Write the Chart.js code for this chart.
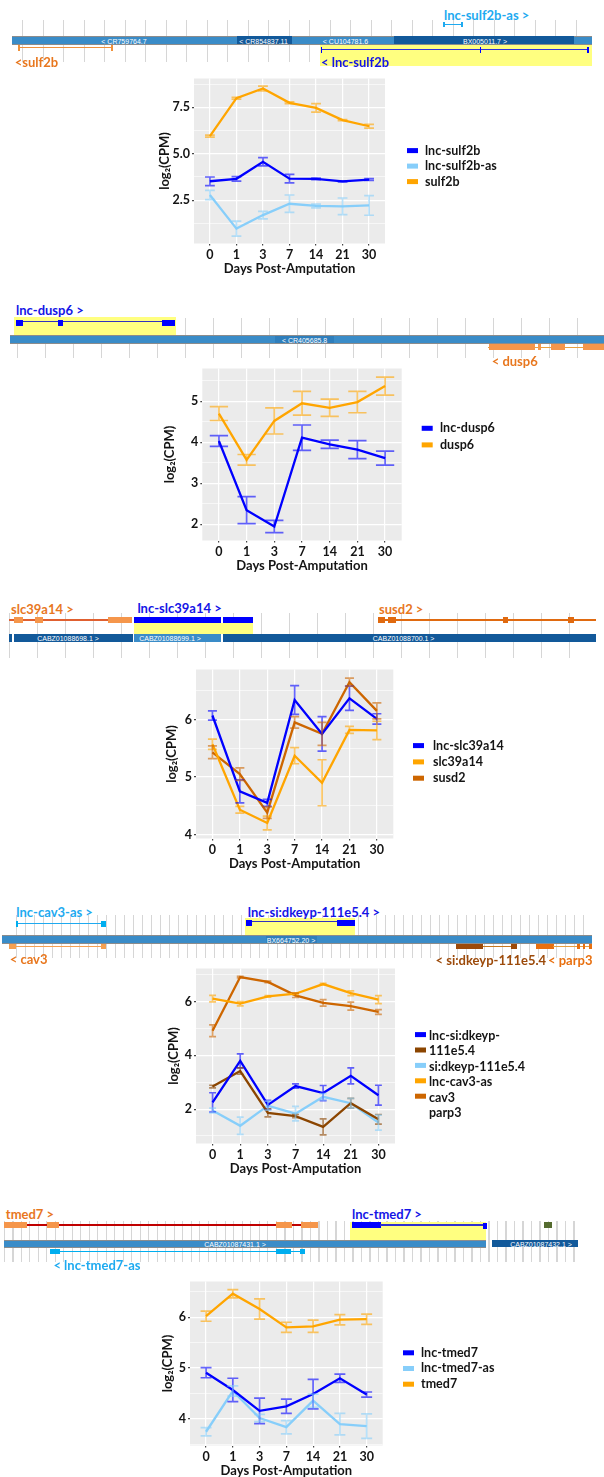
<!DOCTYPE html>
<html>
<head>
<meta charset="utf-8">
<script src="https://cdn.jsdelivr.net/npm/chart.js@4.4.1/dist/chart.umd.min.js"></script>
<style>
  body { margin: 0; background: #fff; }
  #page { position: relative; width: 604px; height: 1477px; overflow: hidden; font-family: Lato, 'Open Sans', sans-serif; }
  .box { position: absolute; }
  .lbl { position: absolute; font-weight: 700; font-size: 13px; line-height: 1; white-space: nowrap; transform: translateY(-50%); }
  .ctg { position: absolute; color: #fff; font: 7px 'Liberation Sans', Arial, sans-serif; line-height: 1; white-space: nowrap; transform: translate(-50%, -50%); }
  canvas { position: absolute; left: 0; }
</style>
</head>
<body>
<div id="page">
  <canvas id="c1"></canvas>
  <canvas id="c2"></canvas>
  <canvas id="c3"></canvas>
  <canvas id="c4"></canvas>
  <canvas id="c5"></canvas>
</div>
<script>
// ---- data (log2 CPM, mean and error half-width) ----
const days = ['0', '1', '3', '7', '14', '21', '30'];

// sulf2b
const lncSulf2b = [3.52, 3.65, 4.57, 3.66, 3.65, 3.51, 3.61];
const lncSulf2bErr = [0.23, 0.12, 0.22, 0.23, 0.04, 0.02, 0.05];
const lncSulf2bAs = [2.78, 0.97, 1.70, 2.31, 2.19, 2.17, 2.22];
const lncSulf2bAsErr = [0.25, 0.40, 0.20, 0.47, 0.10, 0.45, 0.53];
const sulf2b = [5.95, 7.99, 8.51, 7.74, 7.47, 6.81, 6.48];
const sulf2bErr = [0.05, 0.05, 0.13, 0.05, 0.23, 0.03, 0.10];
const p1Major = [2.5, 5.0, 7.5];
const p1Labels = ['2.5', '5.0', '7.5'];
const p1Minor = [1.25, 3.75, 6.25, 8.75];

// dusp6
const lncDusp6 = [4.03, 2.34, 1.94, 4.11, 3.95, 3.82, 3.61];
const lncDusp6Err = [0.13, 0.33, 0.15, 0.31, 0.10, 0.22, 0.17];
const dusp6 = [4.70, 3.57, 4.52, 4.95, 4.84, 4.98, 5.37];
const dusp6Err = [0.17, 0.13, 0.32, 0.29, 0.21, 0.26, 0.22];
const p2Major = [2, 3, 4, 5];
const p2Labels = ['2', '3', '4', '5'];
const p2Minor = [2.5, 3.5, 4.5, 5.5];

// slc39a14
const lncSlc39a14 = [6.07, 4.75, 4.55, 6.34, 5.75, 6.37, 6.01];
const lncSlc39a14Err = [0.08, 0.20, 0.06, 0.25, 0.30, 0.21, 0.09];
const slc39a14 = [5.57, 4.43, 4.20, 5.37, 4.90, 5.82, 5.81];
const slc39a14Err = [0.09, 0.06, 0.12, 0.14, 0.40, 0.06, 0.16];
const susd2 = [5.43, 5.05, 4.38, 5.95, 5.75, 6.65, 6.15];
const susd2Err = [0.11, 0.11, 0.10, 0.10, 0.20, 0.07, 0.14];
const p3Major = [4, 5, 6];
const p3Labels = ['4', '5', '6'];
const p3Minor = [4.5, 5.5, 6.5];

// si:dkeyp-111e5.4 / cav3 / parp3
const lncDkeyp = [2.25, 3.80, 2.16, 2.86, 2.60, 3.24, 2.52];
const lncDkeypErr = [0.36, 0.26, 0.17, 0.08, 0.28, 0.30, 0.37];
const dkeyp = [2.84, 3.42, 1.86, 1.74, 1.34, 2.22, 1.62];
const dkeypErr = [0.05, 0.12, 0.15, 0.06, 0.30, 0.18, 0.18];
const lncCav3As = [1.95, 1.38, 2.13, 1.83, 2.46, 2.22, 1.50];
const lncCav3AsErr = [0.09, 0.32, 0.17, 0.27, 0.12, 0.18, 0.28];
const cav3 = [6.12, 5.93, 6.20, 6.30, 6.66, 6.32, 6.08];
const cav3Err = [0.12, 0.08, 0.03, 0.03, 0.03, 0.09, 0.15];
const parp3 = [4.92, 6.92, 6.74, 6.24, 5.96, 5.84, 5.62];
const parp3Err = [0.22, 0.03, 0.03, 0.08, 0.12, 0.15, 0.09];
const p4Major = [2, 4, 6];
const p4Labels = ['2', '4', '6'];
const p4Minor = [1, 3, 5, 7];
const p4LegendLines = ['lnc-si:dkeyp-', '111e5.4', 'si:dkeyp-111e5.4', 'lnc-cav3-as', 'cav3', 'parp3'];

// tmed7
const lncTmed7 = [4.91, 4.57, 4.16, 4.25, 4.49, 4.80, 4.48];
const lncTmed7Err = [0.10, 0.23, 0.25, 0.14, 0.29, 0.08, 0.05];
const lncTmed7As = [3.75, 4.55, 4.02, 3.84, 4.36, 3.90, 3.86];
const lncTmed7AsErr = [0.08, 0.10, 0.07, 0.13, 0.13, 0.21, 0.24];
const tmed7 = [6.02, 6.46, 6.16, 5.80, 5.82, 5.95, 5.96];
const tmed7Err = [0.10, 0.08, 0.20, 0.10, 0.12, 0.10, 0.10];
const p5Major = [4, 5, 6];
const p5Labels = ['4', '5', '6'];
const p5Minor = [3.5, 4.5, 5.5, 6.5];

const BLUE = '#0000FF', SKY = '#87CEFA', ORANGE = '#FFA500', DARKOR = '#CD6600', BROWN = '#8B4500';
const TICK_FONT = { family: 'Lato', size: 12.5, weight: '700' };
const TITLE_FONT = { family: 'Lato', size: 13, weight: '700' };
const TXT = '#141414';

// ---- plugins ----
const panelBg = {
  id: 'panelBg',
  beforeDraw(chart) {
    const { ctx, chartArea: a } = chart;
    ctx.save();
    ctx.fillStyle = '#EBEBEB';
    ctx.fillRect(a.left, a.top, a.right - a.left, a.bottom - a.top);
    ctx.restore();
  }
};

const errorBars = {
  id: 'errorBars',
  afterDatasetsDraw(chart, args, opts) {
    const { ctx, scales: { x, y } } = chart;
    chart.data.datasets.forEach(ds => {
      if (!ds.errors) return;
      ctx.save();
      ctx.strokeStyle = ds.borderColor;
      ctx.globalAlpha = 0.6;
      ctx.lineWidth = 1.7;
      ds.data.forEach((pt, i) => {
        const e = ds.errors[i];
        const cx = x.getPixelForValue(pt.x);
        const hw = x.getPixelForValue(pt.x + opts.width / 2) - cx;
        const y1 = y.getPixelForValue(pt.y - e);
        const y2 = y.getPixelForValue(pt.y + e);
        ctx.beginPath();
        ctx.moveTo(cx, y1); ctx.lineTo(cx, y2);
        ctx.moveTo(cx - hw, y1); ctx.lineTo(cx + hw, y1);
        ctx.moveTo(cx - hw, y2); ctx.lineTo(cx + hw, y2);
        ctx.stroke();
      });
      ctx.restore();
    });
  }
};

const sideLegend = {
  id: 'sideLegend',
  afterDraw(chart, args, o) {
    const { ctx } = chart;
    ctx.save();
    chart.data.datasets.forEach((ds, i) => {
      ctx.fillStyle = ds.borderColor;
      ctx.fillRect(o.keyX, o.y0 - o.top + i * o.dy - 2.4 + (o.keyShift || 0), 11, 5);
    });
    const lines = o.lines || chart.data.datasets.map(ds => ds.label);
    ctx.fillStyle = TXT;
    ctx.font = '700 12.5px Lato';
    ctx.textBaseline = 'middle';
    lines.forEach((t, i) => ctx.fillText(t, o.textX, o.y0 - o.top + i * o.dy));
    ctx.restore();
  }
};

function buildChart(id, p) {
  const cv = document.getElementById(id);
  const top = p.plot.top - 4;
  const h = Math.round(p.plot.bottom - top + 37.5);
  const yw = p.plot.left - p.yTitleX + 10.8;
  cv.width = 604;
  cv.height = h;
  cv.style.top = top + 'px';
  const isMajor = v => p.major.some(m => Math.abs(m - v) < 1e-6);

  new Chart(cv, {
    type: 'line',
    data: {
      datasets: p.series.map(s => ({
        label: s.name,
        data: s.values.map((v, i) => ({ x: i, y: v })),
        errors: s.errors,
        borderColor: s.color,
        backgroundColor: s.color,
        borderWidth: 2.3,
        pointRadius: 0,
        tension: 0,
        fill: false,
      })),
    },
    options: {
      responsive: false,
      animation: false,
      devicePixelRatio: 1,
      layout: { padding: { left: p.plot.left - yw, right: 604 - p.plot.right, top: 4, bottom: 0 } },
      plugins: {
        legend: { display: false },
        tooltip: { enabled: false },
        errorBars: { width: p.capWidth },
        sideLegend: Object.assign({ top }, p.legend),
      },
      scales: {
        x: {
          type: 'linear',
          min: -0.6,
          max: 6.6,
          afterBuildTicks: s => { s.ticks = days.map((d, i) => ({ value: i })); },
          afterFit: s => { s.height = 37.5; },
          ticks: { callback: v => days[v], font: TICK_FONT, color: TXT, padding: 2, maxRotation: 0, autoSkip: false },
          grid: { color: '#fff', lineWidth: 1.2, tickLength: 2, tickColor: '#444' },
          border: { display: false },
          title: { display: true, text: 'Days Post-Amputation', font: TITLE_FONT, color: TXT, padding: { top: 0, bottom: 4 } },
        },
        y: {
          min: p.yMin,
          max: p.yMax,
          afterBuildTicks: s => {
            s.ticks = [...p.minor, ...p.major].sort((a, b) => a - b).map(v => ({ value: v }));
          },
          afterFit: s => { s.width = yw; },
          ticks: {
            callback: v => { const k = p.major.findIndex(m => Math.abs(m - v) < 1e-6); return k < 0 ? '' : p.labels[k]; },
            font: TICK_FONT, color: TXT, padding: 2, autoSkip: false,
          },
          grid: {
            color: '#fff',
            lineWidth: c => (isMajor(c.tick.value) ? 1.2 : 0.6),
            tickLength: 2,
            tickColor: c => (c.tick && isMajor(c.tick.value) ? '#444' : 'rgba(0,0,0,0)'),
          },
          border: { display: false },
          title: { display: true, text: 'log₂(CPM)', font: TITLE_FONT, color: TXT, padding: { top: 3, bottom: 0 } },
        },
      },
    },
    plugins: [panelBg, errorBars, sideLegend],
  });
}

buildChart('c1', {
  plot: { left: 194, right: 385, top: 72.5, bottom: 242.5 }, yTitleX: 165,
  yMin: 0.17, yMax: 9.05, major: p1Major, labels: p1Labels, minor: p1Minor, capWidth: 0.37,
  series: [
    { name: 'lnc-sulf2b', values: lncSulf2b, errors: lncSulf2bErr, color: BLUE },
    { name: 'lnc-sulf2b-as', values: lncSulf2bAs, errors: lncSulf2bAsErr, color: SKY },
    { name: 'sulf2b', values: sulf2b, errors: sulf2bErr, color: ORANGE },
  ],
  legend: { keyX: 407, textX: 425, y0: 150, dy: 15.5 },
});

buildChart('c2', {
  plot: { left: 202.3, right: 401.7, top: 362.5, bottom: 540 }, yTitleX: 170,
  yMin: 1.6, yMax: 5.8, major: p2Major, labels: p2Labels, minor: p2Minor, capWidth: 0.66,
  series: [
    { name: 'lnc-dusp6', values: lncDusp6, errors: lncDusp6Err, color: BLUE },
    { name: 'dusp6', values: dusp6, errors: dusp6Err, color: ORANGE },
  ],
  legend: { keyX: 421.7, textX: 440, y0: 427.7, dy: 16.6 },
});

buildChart('c3', {
  plot: { left: 196, right: 393.3, top: 663.5, bottom: 838.3 }, yTitleX: 172,
  yMin: 3.93, yMax: 6.87, major: p3Major, labels: p3Labels, minor: p3Minor, capWidth: 0.33,
  series: [
    { name: 'lnc-slc39a14', values: lncSlc39a14, errors: lncSlc39a14Err, color: BLUE },
    { name: 'slc39a14', values: slc39a14, errors: slc39a14Err, color: ORANGE },
    { name: 'susd2', values: susd2, errors: susd2Err, color: DARKOR },
  ],
  legend: { keyX: 413, textX: 433, y0: 745, dy: 16.3 },
});

buildChart('c4', {
  plot: { left: 196, right: 395, top: 963, bottom: 1143.3 }, yTitleX: 174,
  yMin: 0.72, yMax: 7.24, major: p4Major, labels: p4Labels, minor: p4Minor, capWidth: 0.25,
  series: [
    { name: 'lnc-si:dkeyp-111e5.4', values: lncDkeyp, errors: lncDkeypErr, color: BLUE },
    { name: 'si:dkeyp-111e5.4', values: dkeyp, errors: dkeypErr, color: BROWN },
    { name: 'lnc-cav3-as', values: lncCav3As, errors: lncCav3AsErr, color: SKY },
    { name: 'cav3', values: cav3, errors: cav3Err, color: ORANGE },
    { name: 'parp3', values: parp3, errors: parp3Err, color: DARKOR },
  ],
  legend: { keyX: 415, textX: 429, y0: 1036, dy: 15.4, keyShift: -1.5, lines: p4LegendLines },
});

buildChart('c5', {
  plot: { left: 190, right: 382.7, top: 1276, bottom: 1445.7 }, yTitleX: 168,
  yMin: 3.48, yMax: 6.7, major: p5Major, labels: p5Labels, minor: p5Minor, capWidth: 0.41,
  series: [
    { name: 'lnc-tmed7', values: lncTmed7, errors: lncTmed7Err, color: BLUE },
    { name: 'lnc-tmed7-as', values: lncTmed7As, errors: lncTmed7AsErr, color: SKY },
    { name: 'tmed7', values: tmed7, errors: tmed7Err, color: ORANGE },
  ],
  legend: { keyX: 403, textX: 421, y0: 1352.7, dy: 15.7 },
});

// ---- genome browser strips above each chart ----
const page = document.getElementById('page');
function add(cls, css, text) {
  const d = document.createElement('div');
  d.className = cls;
  Object.assign(d.style, css);
  if (text) d.textContent = text;
  page.appendChild(d);
  return d;
}
const px = v => v + 'px';
function box(x, y, w, h, c) { add('box', { left: px(x), top: px(y), width: px(w), height: px(h), background: c }); }
function hline(x1, x2, y, c, t) { box(x1, y - (t || 1) / 2, x2 - x1, t || 1, c); }
function label(x, y, s, c) { add('lbl', { left: px(x), top: px(y), color: c }, s); }
function ctg(cx, cy, s) { add('ctg', { left: px(cx), top: px(cy) }, s); }
function vlines(x0, x1, y0, y1, step) {
  add('box', {
    left: px(x0), top: px(y0), width: px(x1 - x0), height: px(y1 - y0),
    background: `repeating-linear-gradient(90deg, #d6d6d6 0 1px, transparent 1px ${step}px)`,
  });
}
function contig(x, y, w, h, c) {
  box(x, y, w, h, c);
  hline(x, x + w, y, '#8c8c8c', 1);
  hline(x, x + w, y + h, '#8c8c8c', 1);
}
const C_MID = '#3A8CC8', C_DARK = '#12599A', C_YEL = '#FFFF80';
const T_BLUE = '#1414E6', T_SKY = '#1EAAF0', T_OR = '#E8771E', EX_OR = '#F5964B';

// strip 1
vlines(22, 582, 20, 62, 20.5);
box(320, 45, 272, 20.7, C_YEL);
contig(11.6, 36, 580.4, 8.3, C_MID);
box(237, 36, 55, 8.3, C_DARK);
box(394, 36, 180, 8.3, C_DARK);
ctg(124, 40.5, '< CR759764.7');
ctg(263.5, 40.5, '< CR854837.11');
ctg(345.5, 40.5, '< CU104781.6');
ctg(485, 40.5, 'BX005011.7 >');
hline(18.6, 112, 47.7, '#F0913A', 1.3);
box(18, 45, 1.6, 5.5, '#F0913A'); box(111, 45, 1.6, 5.5, '#F0913A');
label(14.7, 61.7, '<sulf2b', T_OR);
hline(321, 588, 49.3, '#3030D8', 1.2);
box(320.5, 46.5, 1.8, 6, BLUE); box(479.5, 46.5, 1.8, 6, BLUE); box(587, 46.5, 1.8, 6, BLUE);
label(321, 61.7, '< lnc-sulf2b', T_BLUE);
label(444, 15, 'lnc-sulf2b-as >', T_SKY);
hline(443, 462, 24.5, T_SKY, 1.2);
box(443, 22, 1.5, 5, T_SKY); box(461, 22, 1.5, 5, T_SKY);

// strip 2
vlines(17.4, 604, 318, 358, 28);
box(13.5, 317.3, 162, 17.7, C_YEL);
hline(15.5, 175, 321.7, '#3030C0', 1.2);
box(15.5, 319.5, 7.5, 6, BLUE); box(58, 319.5, 5, 6, BLUE); box(162, 319.5, 13, 6, BLUE);
label(16, 310, 'lnc-dusp6 >', T_BLUE);
contig(9.7, 335, 594.3, 8.3, C_MID);
box(275, 335.5, 59, 7.5, '#2E7EBC');
ctg(304.6, 339.5, '< CR405685.8');
hline(488, 604, 347.3, '#E8A040', 1.3);
box(488.6, 344.3, 46.8, 5.7, EX_OR); box(538, 344.3, 3, 5.7, EX_OR);
box(550.5, 344.3, 14, 5.7, EX_OR); box(582.7, 344.3, 21.3, 5.7, EX_OR);
label(491.7, 361, '< dusp6', T_OR);

// strip 3
vlines(8.5, 596, 613, 657.7, 28);
hline(8.5, 131.6, 620, '#E06030', 1.2);
box(13.5, 617.3, 9, 5.4, EX_OR); box(35, 617.3, 7.6, 5.4, EX_OR); box(107.6, 617.3, 24, 5.4, EX_OR);
box(133.6, 622.7, 119.2, 11.6, C_YEL);
box(134.3, 617, 86.4, 5.7, BLUE); box(223.4, 617, 29.4, 5.7, BLUE);
hline(377.5, 596, 620, '#E06A10', 1.2);
box(377.5, 617.3, 7.5, 5.4, '#E06A10'); box(388, 617.3, 7.7, 5.4, '#E06A10');
box(502.5, 617.3, 5.8, 5.4, '#E06A10'); box(568, 617.3, 5.7, 5.4, '#E06A10');
label(11, 609, 'slc39a14 >', T_OR);
label(137.4, 608.3, 'lnc-slc39a14 >', T_BLUE);
label(379, 609, 'susd2 >', T_OR);
box(8.5, 634.3, 587.5, 7.4, C_DARK);
box(133.6, 634.3, 87.1, 7.4, C_MID);
box(12.4, 634.3, 1.5, 7.4, '#fff'); box(132.6, 634.3, 1.5, 7.4, '#fff'); box(221, 634.3, 1.5, 7.4, '#fff');
ctg(68, 638.2, 'CABZ01088698.1 >');
ctg(170, 638.2, 'CABZ01088699.1 >');
ctg(403.6, 638.2, 'CABZ01088700.1 >');

// strip 4
vlines(16, 592, 915, 957.7, 9);
box(245, 918.3, 110, 17.4, C_YEL);
hline(16, 103, 923.3, T_SKY, 1.2);
box(15.5, 920.5, 2.7, 6, '#00AEEF'); box(100.6, 920.5, 5.4, 6, '#00AEEF');
label(16.3, 912.3, 'lnc-cav3-as >', T_SKY);
hline(246, 354.6, 921.7, '#3030C0', 1.2);
box(246, 920, 5.6, 5.7, BLUE); box(336.8, 920, 17.8, 5.7, BLUE);
label(247.8, 911.7, 'lnc-si:dkeyp-111e5.4 >', T_BLUE);
contig(2, 935.7, 590, 7.6, C_MID);
box(266, 936.2, 51, 7, '#2E7EBC');
ctg(291, 939.8, 'BX664752.20 >');
hline(8.5, 105.7, 946.8, '#F5A050', 1.3);
box(8.5, 944.3, 7.8, 5, '#F5A050'); box(100.6, 944.3, 5.1, 5, '#F5A050');
label(9.7, 959, '< cav3', T_OR);
box(456, 944.3, 27, 5, '#9C4A0A');
hline(483, 517, 946.8, '#C8781E', 1.3);
box(511, 944.3, 6, 5, '#9C4A0A');
label(435.5, 960, '< si:dkeyp-111e5.4', '#9C4A0A');
box(536, 944.3, 17.6, 5, '#E87010');
hline(553, 592, 946.8, '#E8A040', 1.3);
box(577, 944.3, 2.5, 5, '#E87010'); box(582.5, 944.3, 2.5, 5, '#E87010'); box(589, 944.3, 3, 5, '#E87010');
label(548, 960, '< parp3', '#E87010');

// strip 5
vlines(4, 578, 1221, 1262, 8.5);
box(350.4, 1221.7, 135.6, 18.3, C_YEL);
hline(4, 317.5, 1225, '#C00000', 1.2);
box(4, 1222.3, 23, 5.4, EX_OR); box(47, 1222.3, 12, 5.4, EX_OR);
box(276.4, 1222.3, 16, 5.4, EX_OR); box(301, 1222.3, 16.5, 5.4, EX_OR);
label(5.8, 1214.3, 'tmed7 >', T_OR);
box(351.5, 1222.3, 29, 5.4, BLUE);
hline(380, 484, 1225, '#3030D0', 1.2);
box(482.8, 1222.5, 4, 6, BLUE);
label(352, 1214.3, 'lnc-tmed7 >', T_BLUE);
box(544, 1222.3, 7.7, 5.4, '#556B2F');
contig(4, 1240, 482, 7.3, C_MID);
box(491.7, 1240, 86, 7.3, C_DARK);
ctg(235, 1243.8, 'CABZ01087431.1 >');
ctg(541, 1243.8, 'CABZ01087432.1 >');
hline(50, 305, 1251.5, '#00AEEF', 1.2);
box(50.3, 1249, 9.7, 5.3, '#00AEEF'); box(276.4, 1249, 14.6, 5.3, '#00AEEF'); box(300.4, 1249, 4.6, 5.3, '#00AEEF');
label(53.4, 1265, '< lnc-tmed7-as', T_SKY);
</script>
</body>
</html>
